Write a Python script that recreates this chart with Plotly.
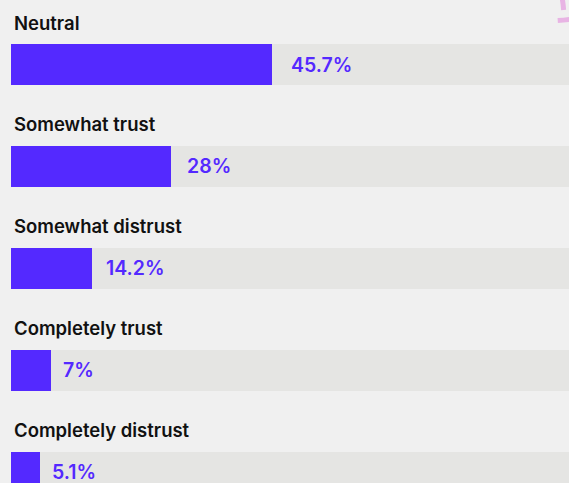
import plotly.graph_objects as go

# Survey responses: level of trust
categories = ["Neutral", "Somewhat trust", "Somewhat distrust", "Completely trust", "Completely distrust"]
shares = [45.7, 28, 14.2, 7, 5.1]
value_labels = ["45.7%", "28%", "14.2%", "7%", "5.1%"]

PURPLE = "#5429ff"
TRACK = "#e5e5e3"
BG = "#f0f0f0"
INK = "#111111"

rows = list(range(len(categories)))

fig = go.Figure()

# Full-width grey track behind each bar
fig.add_trace(go.Bar(
    x=[100] * len(categories), y=rows, orientation="h",
    marker=dict(color=TRACK, line=dict(width=0)),
    width=0.402, hoverinfo="skip", showlegend=False,
))

# Share bars
fig.add_trace(go.Bar(
    x=shares, y=rows, orientation="h",
    marker=dict(color=PURPLE, line=dict(width=0)),
    width=0.402, showlegend=False,
    hovertemplate="%{customdata}: %{x}%<extra></extra>",
    customdata=categories,
))

annotations = []
for i, (cat, v, lab) in enumerate(zip(categories, shares, value_labels)):
    # category label above the bar
    annotations.append(dict(
        x=0, xref="paper", y=i, yref="y", text=cat, showarrow=False,
        xanchor="left", yanchor="middle", xshift=1, yshift=42,
        font=dict(family="Inter", size=18.5, color=INK, weight=600),
    ))
    # value label right of the bar end
    annotations.append(dict(
        x=v, xref="x", y=i, yref="y", text=lab, showarrow=False,
        xanchor="left", yanchor="middle", xshift=9 + 0.18 * v, yshift=0,
        font=dict(family="Inter", size=19.5, color=PURPLE, weight=600),
    ))

W, H = 569, 483

def px(x, y):
    return x / W, 1 - y / H

# hand-drawn pink accent in the top-right corner
x0, y0 = px(562, -2)
x1, y1 = px(563.5, 10)
x2, y2 = px(557.5, 20.5)
x3, y3 = px(572, 19)
shapes = [
    dict(type="path", xref="paper", yref="paper",
         path=f"M {x0},{y0} Q {x0 + 0.002},{(y0 + y1) / 2} {x1},{y1}",
         line=dict(color="#e8b4e4", width=5), layer="above"),
    dict(type="path", xref="paper", yref="paper",
         path=f"M {x2},{y2} Q {(x2 + x3) / 2},{y2 + 0.001} {x3},{y3}",
         line=dict(color="#e8b4e4", width=5), layer="above"),
]

fig.update_layout(
    width=W, height=H,
    margin=dict(l=11, r=0, t=0, b=0),
    paper_bgcolor=BG, plot_bgcolor=BG,
    barmode="overlay",
    bargap=0,
    xaxis=dict(range=[0, 97.7], visible=False, fixedrange=True),
    yaxis=dict(range=[4.107, -0.633], visible=False, fixedrange=True),
    annotations=annotations,
    shapes=shapes,
)

fig.write_html("out.html")
